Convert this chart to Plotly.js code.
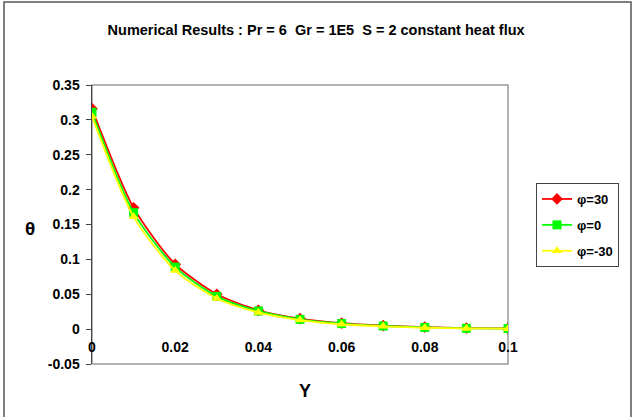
<!DOCTYPE html>
<html>
<head>
<meta charset="utf-8">
<script src="https://cdn.plot.ly/plotly-3.0.1.min.js"></script>
<style>html,body{margin:0;padding:0;background:#fff;}#chart{width:636px;height:417px;}</style>
</head>
<body>
<div id="chart"></div>
<script>
var yPos = [0, 0.01, 0.02, 0.03, 0.04, 0.05, 0.06, 0.07, 0.08, 0.09, 0.1];
var thetaPhi30 = [0.316, 0.174, 0.093, 0.050, 0.027, 0.015, 0.0085, 0.005, 0.003, 0.0015, 0.001];
var thetaPhi0 = [0.311, 0.167, 0.089, 0.047, 0.026, 0.014, 0.008, 0.0045, 0.0025, 0.0012, 0.0008];
var thetaPhiM30 = [0.305, 0.161, 0.084, 0.044, 0.024, 0.013, 0.007, 0.004, 0.002, 0.001, 0.0006];
var seriesNames = ['φ=30', 'φ=0', 'φ=-30'];
var xTicks = [0, 0.02, 0.04, 0.06, 0.08, 0.1];
var xTickText = ['0', '0.02', '0.04', '0.06', '0.08', '0.1'];
var yTicks = [-0.05, 0, 0.05, 0.1, 0.15, 0.2, 0.25, 0.3, 0.35];
var yTickText = ['-0.05', '0', '0.05', '0.1', '0.15', '0.2', '0.25', '0.3', '0.35'];

function bold(a) { return a.map(function (s) { return '<b>' + s + '</b>'; }); }

function tr(y, name, color, symbol, group) {
  return {
    x: yPos, y: y, name: '<b>' + name + '</b>', type: 'scatter', mode: 'lines+markers',
    line: {color: color, width: 1.8, shape: 'spline', smoothing: 0.7},
    marker: {color: color, symbol: symbol, size: 9},
    legendgroup: group
  };
}
var data = [
  tr(thetaPhi30, seriesNames[0], '#ff0000', 'diamond', 'a'),
  tr(thetaPhi0, seriesNames[1], '#00ff00', 'square', 'b'),
  tr(thetaPhiM30, seriesNames[2], '#ffff00', 'triangle-up', 'c')
];
var L = 92, R = 508, T = 85, B = 364;
var W = R - L, H = B - T;
var layout = {
  width: 636, height: 417,
  margin: {l: L, r: 636 - R, t: T, b: 417 - B, autoexpand: false},
  paper_bgcolor: '#ffffff', plot_bgcolor: '#ffffff',
  font: {family: 'Liberation Sans, Arial, sans-serif', color: '#000'},
  title: {text: '<b>Numerical Results : Pr = 6  Gr = 1E5  S = 2 constant heat flux</b>',
          font: {size: 14.5, color: '#000'}, x: 0.497, xanchor: 'center', y: 1 - 30/417, yanchor: 'middle'},
  showlegend: true,
  legend: {x: (536 - L) / W, xanchor: 'left', y: (B - 183) / H, yanchor: 'top',
           bordercolor: '#444', borderwidth: 1, bgcolor: '#fff',
           font: {size: 13, color: '#000', family: 'Liberation Sans, Arial, sans-serif'},
           traceorder: 'grouped', tracegroupgap: 6, itemwidth: 30},
  xaxis: {range: [0, 0.1], tickvals: xTicks, ticktext: bold(xTickText),
          anchor: 'free', position: (B - 330) / H, showline: false, ticks: '',
          showgrid: false, zeroline: false, ticklabelstandoff: 7,
          tickfont: {size: 14, color: '#000'}},
  yaxis: {range: [-0.05, 0.35], tickvals: yTicks, ticktext: bold(yTickText),
          showline: true, linecolor: '#444', linewidth: 1.5, ticks: 'outside', ticklen: 5,
          tickcolor: '#444', showgrid: false, zeroline: false, ticklabelstandoff: 3,
          tickfont: {size: 14, color: '#000'}},
  annotations: [
    {text: '<b>θ</b>', xref: 'paper', yref: 'paper', x: (30 - L) / W, y: (B - 228) / H,
     xanchor: 'center', yanchor: 'middle', showarrow: false, font: {size: 19, color: '#000'}},
    {text: '<b>Y</b>', xref: 'paper', yref: 'paper', x: (305 - L) / W, y: (B - 391) / H,
     xanchor: 'center', yanchor: 'middle', showarrow: false, font: {size: 18, color: '#000'}}
  ],
  shapes: [
    {type: 'rect', xref: 'paper', yref: 'paper', x0: 0, x1: 1, y0: 0, y1: 1,
     line: {color: '#999', width: 1.5}, layer: 'below'},
    {type: 'rect', xref: 'paper', yref: 'paper', x0: (4 - L) / W, x1: (631 - L) / W,
     y0: (B - 425) / H, y1: (B - 2) / H, line: {color: '#555', width: 1.5}}
  ]
};
Plotly.newPlot('chart', data, layout, {displayModeBar: false, staticPlot: true});
</script>
</body>
</html>
